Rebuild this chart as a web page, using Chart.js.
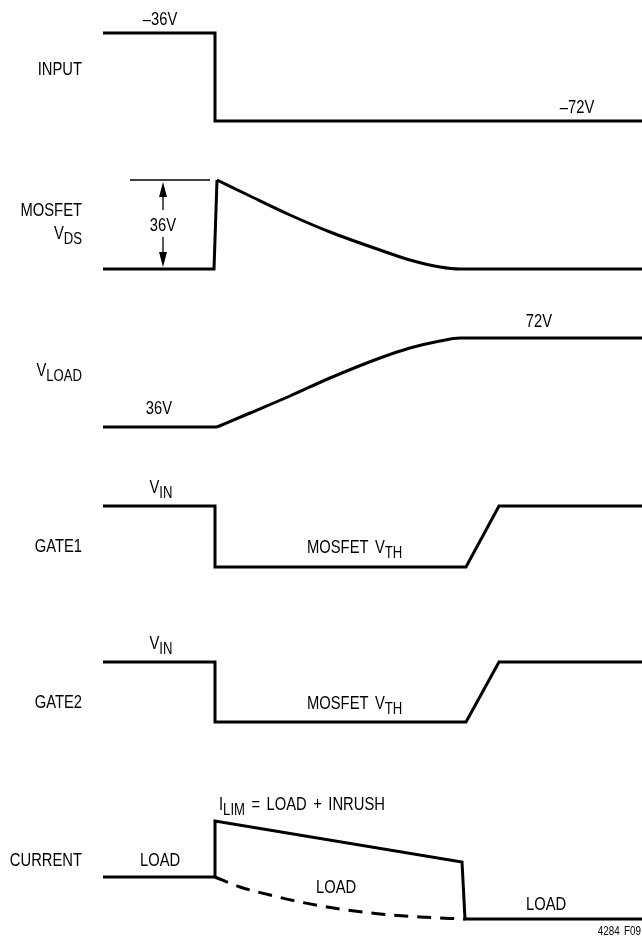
<!DOCTYPE html>
<html lang="en">
<head>
  <meta charset="UTF-8">
  <title>Timing Waveforms</title>
  <script src="https://cdn.jsdelivr.net/npm/chart.js"></script>
  <style>
    body {
      margin: 0;
      background: #FFFFFF;
    }
    #wrap {
      width: 642px;
      height: 937px;
    }
  </style>
</head>
<body>
  <div id="wrap"><canvas id="timing" width="642" height="937"></canvas></div>

  <script>
    // waveform traces: time (x) and level (y, picture units, top = 0)
    const inputX = [103, 215, 215, 642];
    const inputY = [33, 33, 121, 121];

    const vdsStepX = [103, 214, 217];
    const vdsStepY = [269, 269, 180];
    const vdsCurveX = [217, 250, 290, 330, 380, 410, 440, 460, 642];
    const vdsCurveY = [180, 196, 215, 232, 250, 260, 267, 269, 269];
    const vdsRefX = [130, 210];
    const vdsRefY = [180, 180];

    const loadStepX = [103, 217];
    const loadStepY = [427, 427];
    const loadCurveX = [217, 250, 290, 330, 380, 410, 440, 460, 642];
    const loadCurveY = [427, 413, 396, 378, 358, 348, 341, 338, 338];

    const gate1X = [103, 215, 215, 466, 499, 642];
    const gate1Y = [506, 506, 567, 567, 506, 506];

    const gate2X = [103, 215, 215, 466, 499, 642];
    const gate2Y = [662, 662, 722, 722, 662, 662];

    const currentX = [103, 215, 215, 462, 465, 642];
    const currentY = [877, 877, 821, 862, 919, 919];
    const loadDashX = [215, 240, 270, 300, 340, 380, 420, 465];
    const loadDashY = [877, 887, 895, 902, 909, 914, 917, 919];

    // text: [parts], x, y (baseline), align ; part = [text, isSubscript]
    const labels = [
      [[['INPUT', 0]], 82, 75, 'right'],
      [[['MOSFET', 0]], 82, 216, 'right'],
      [[['V', 0], ['DS', 1]], 82, 239, 'right'],
      [[['V', 0], ['LOAD', 1]], 82, 376, 'right'],
      [[['GATE1', 0]], 82, 552, 'right'],
      [[['GATE2', 0]], 82, 708, 'right'],
      [[['CURRENT', 0]], 82, 866, 'right'],
      [[['\u201336V', 0]], 160, 25, 'center'],
      [[['\u201372V', 0]], 577, 113, 'center'],
      [[['36V', 0]], 163, 231, 'center'],
      [[['72V', 0]], 539, 327, 'center'],
      [[['36V', 0]], 159, 414, 'center'],
      [[['V', 0], ['IN', 1]], 161, 493, 'center'],
      [[['MOSFET V', 0], ['TH', 1]], 307, 553, 'left'],
      [[['V', 0], ['IN', 1]], 161, 649, 'center'],
      [[['MOSFET V', 0], ['TH', 1]], 307, 709, 'left'],
      [[['I', 0], ['LIM', 1], [' = LOAD + INRUSH', 0]], 219, 810, 'left'],
      [[['LOAD', 0]], 140, 866, 'left'],
      [[['LOAD', 0]], 316, 893, 'left'],
      [[['LOAD', 0]], 526, 910, 'left']
    ];

    const FONT = '"Liberation Sans", Arial, sans-serif';
    const SQUEEZE = 0.82; // no narrow face installed, so condense by hand
    const MAIN_PX = 18, SUB_PX = 16;

    function pts(xs, ys) {
      return xs.map((x, i) => ({ x: x, y: ys[i] }));
    }

    function trace(xs, ys, extra) {
      return Object.assign({
        data: pts(xs, ys),
        borderColor: '#000000',
        borderWidth: 3,
        pointRadius: 0,
        fill: false,
        tension: 0,
        borderJoinStyle: 'miter',
        borderCapStyle: 'butt'
      }, extra || {});
    }

    // width of a run: letters condensed, spaces kept wide
    function runWidth(ctx, text, size) {
      const words = text.split(' ');
      let w = 0;
      words.forEach((wd, i) => {
        w += ctx.measureText(wd).width * SQUEEZE;
        if (i < words.length - 1) w += size * 0.36;
      });
      return w;
    }

    function narrowRun(ctx, text, x, y, size) {
      const words = text.split(' ');
      let cx = x;
      words.forEach((wd, i) => {
        ctx.save();
        ctx.translate(cx, y);
        ctx.scale(SQUEEZE, 1);
        ctx.fillText(wd, 0, 0);
        ctx.restore();
        cx += ctx.measureText(wd).width * SQUEEZE;
        if (i < words.length - 1) cx += size * 0.36;
      });
    }

    function drawParts(ctx, parts, x, y, align) {
      let total = 0;
      const widths = parts.map(p => {
        const size = p[1] ? SUB_PX : MAIN_PX;
        ctx.font = size + 'px ' + FONT;
        const w = runWidth(ctx, p[0], size);
        total += w;
        return w;
      });
      let cx = align === 'right' ? x - total : align === 'center' ? x - total / 2 : x;
      parts.forEach((p, i) => {
        const size = p[1] ? SUB_PX : MAIN_PX;
        ctx.font = size + 'px ' + FONT;
        narrowRun(ctx, p[0], cx, p[1] ? y + 5 : y, size);
        cx += widths[i];
      });
    }

    function arrowHead(ctx, x, tipY, dir) {
      ctx.beginPath();
      ctx.moveTo(x, tipY);
      ctx.lineTo(x - 4, tipY + dir * 15);
      ctx.lineTo(x + 4, tipY + dir * 15);
      ctx.closePath();
      ctx.fill();
    }

    const notes = {
      id: 'notes',
      afterDraw(chart) {
        const ctx = chart.ctx;
        const sx = chart.scales.x, sy = chart.scales.y;
        ctx.save();
        ctx.fillStyle = '#000000';
        ctx.strokeStyle = '#000000';
        ctx.textBaseline = 'alphabetic';
        ctx.textAlign = 'left';
        labels.forEach(l => {
          drawParts(ctx, l[0], sx.getPixelForValue(l[1]), sy.getPixelForValue(l[2]), l[3]);
        });

        // 36V dimension arrows
        const ax = sx.getPixelForValue(163);
        ctx.lineWidth = 1.3;
        ctx.beginPath();
        ctx.moveTo(ax, sy.getPixelForValue(192));
        ctx.lineTo(ax, sy.getPixelForValue(210));
        ctx.moveTo(ax, sy.getPixelForValue(237));
        ctx.lineTo(ax, sy.getPixelForValue(257));
        ctx.stroke();
        arrowHead(ctx, ax, sy.getPixelForValue(182), 1);
        arrowHead(ctx, ax, sy.getPixelForValue(267), -1);

        ctx.font = '12px ' + FONT;
        const tag = '4284 F09';
        const tw = runWidth(ctx, tag, 12);
        narrowRun(ctx, tag, sx.getPixelForValue(641) - tw, sy.getPixelForValue(935), 12);
        ctx.restore();
      }
    };

    new Chart(document.getElementById('timing'), {
      type: 'line',
      data: {
        datasets: [
          trace(inputX, inputY),
          trace(vdsStepX, vdsStepY),
          trace(vdsCurveX, vdsCurveY, { cubicInterpolationMode: 'monotone' }),
          trace(vdsRefX, vdsRefY, { borderWidth: 1.5 }),
          trace(loadStepX, loadStepY),
          trace(loadCurveX, loadCurveY, { cubicInterpolationMode: 'monotone' }),
          trace(gate1X, gate1Y),
          trace(gate2X, gate2Y),
          trace(currentX, currentY),
          trace(loadDashX, loadDashY, { cubicInterpolationMode: 'monotone', borderDash: [14, 9] })
        ]
      },
      options: {
        responsive: false,
        animation: false,
        events: [],
        layout: { padding: 0 },
        clip: false,
        scales: {
          x: { type: 'linear', min: 0, max: 642, display: false },
          y: { type: 'linear', min: 0, max: 937, reverse: true, display: false }
        },
        plugins: {
          legend: { display: false },
          tooltip: { enabled: false }
        }
      },
      plugins: [notes]
    });
  </script>
</body>
</html>
